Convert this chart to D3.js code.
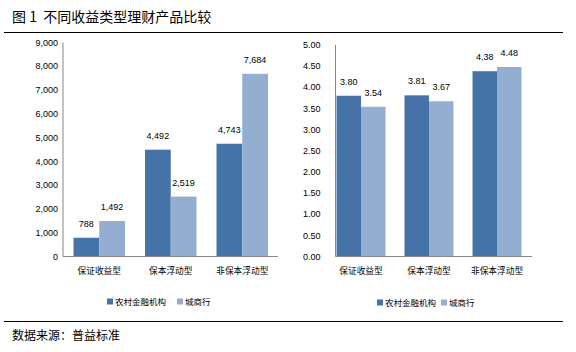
<!DOCTYPE html>
<html>
<head>
<meta charset="utf-8">
<script src="https://cdn.jsdelivr.net/npm/d3@7"></script>
<style>
  body { margin: 0; background: #fff; }
  text { font-family: "Liberation Sans", "Noto Sans CJK SC", sans-serif; fill: #000; }
  .cjk { font-family: "Noto Sans CJK SC", sans-serif; }
</style>
</head>
<body>
<svg id="chart" width="576" height="352"></svg>
<script>
const categories = ['保证收益型', '保本浮动型', '非保本浮动型']
const seriesNames = ['农村金融机构', '城商行']
const scaleValues = [[788, 4492, 4743], [1492, 2519, 7684]]
const yieldValues = [[3.80, 3.81, 4.38], [3.54, 3.67, 4.48]]
const scaleTicks = [0, 1000, 2000, 3000, 4000, 5000, 6000, 7000, 8000, 9000]
const yieldTicks = [0, 0.5, 1, 1.5, 2, 2.5, 3, 3.5, 4, 4.5, 5]

const colors = ['#4572A7', '#94AED2']
const svg = d3.select('#chart')

svg.append('text')
    .attr('class', 'cjk')
    .attr('x', 12)
    .attr('y', 22)
    .attr('font-size', 14)
    .attr('xml:space', 'preserve')
    .text('图 1  不同收益类型理财产品比较')

svg.append('line').attr('x1', 4).attr('x2', 563).attr('y1', 32.5).attr('y2', 32.5)
    .attr('stroke', '#000').attr('stroke-width', 1)
svg.append('line').attr('x1', 4).attr('x2', 563).attr('y1', 321.5).attr('y2', 321.5)
    .attr('stroke', '#000').attr('stroke-width', 1)

svg.append('text')
    .attr('class', 'cjk')
    .attr('x', 12)
    .attr('y', 340)
    .attr('font-size', 12)
    .text('数据来源：普益标准')

function drawPanel(opt) {
    const g = svg.append('g')
    const x0 = d3.scaleBand()
        .domain(categories)
        .range(opt.xRange)
        .paddingInner(0.28)
        .paddingOuter(0.14)
    const x1 = d3.scaleBand()
        .domain([0, 1])
        .range([0, x0.bandwidth()])
    const y = d3.scaleLinear()
        .domain([0, opt.max])
        .range([opt.y0, opt.yTop])

    // y axis labels
    g.selectAll('.ytick')
        .data(opt.ticks)
        .enter()
        .append('text')
        .attr('x', opt.axisX - opt.labelGap)
        .attr('y', d => y(d))
        .attr('dy', '0.35em')
        .attr('text-anchor', 'end')
        .attr('font-size', 9)
        .text(opt.fmt)

    // bars
    opt.values.forEach((vals, s) => {
        g.selectAll('.bar' + s)
            .data(vals)
            .enter()
            .append('rect')
            .attr('x', (d, i) => x0(categories[i]) + x1(s))
            .attr('width', x1.bandwidth())
            .attr('y', d => y(d))
            .attr('height', d => opt.y0 - y(d))
            .attr('fill', colors[s])

        g.selectAll('.lab' + s)
            .data(vals)
            .enter()
            .append('text')
            .attr('x', (d, i) => x0(categories[i]) + x1(s) + x1.bandwidth() / 2)
            .attr('y', d => y(d) - 11)
            .attr('text-anchor', 'middle')
            .attr('font-size', 9)
            .text(opt.labelFmt)
    })

    // axes lines
    g.append('line')
        .attr('x1', opt.axisX).attr('x2', opt.axisX)
        .attr('y1', opt.yTop).attr('y2', opt.y0)
        .attr('stroke', '#868686')
    g.append('line')
        .attr('x1', opt.axisX).attr('x2', opt.axisEnd)
        .attr('y1', opt.y0).attr('y2', opt.y0)
        .attr('stroke', '#868686')

    g.selectAll('.cat')
        .data(categories)
        .enter()
        .append('text')
        .attr('class', 'cjk')
        .attr('x', d => x0(d) + x0.bandwidth() / 2)
        .attr('y', 274)
        .attr('text-anchor', 'middle')
        .attr('font-size', 8.7)
        .text(d => d)

    // legend
    seriesNames.forEach((name, s) => {
        const lx = opt.legendX[s]
        g.append('rect')
            .attr('x', lx).attr('y', opt.legendY - 3.5)
            .attr('width', 6).attr('height', 6)
            .attr('fill', colors[s])
        g.append('text')
            .attr('class', 'cjk')
            .attr('x', lx + 8)
            .attr('y', opt.legendY)
            .attr('dy', '0.35em')
            .attr('font-size', 8.5)
            .text(name)
    })
}

drawPanel({
    values: scaleValues,
    ticks: scaleTicks,
    max: 9000,
    xRange: [63.5, 278],
    axisX: 63,
    axisEnd: 278,
    y0: 256.5,
    yTop: 42.5,
    labelGap: 5,
    fmt: d3.format(','),
    labelFmt: d3.format(','),
    legendX: [107, 177],
    legendY: 302
})

drawPanel({
    values: yieldValues,
    ticks: yieldTicks,
    max: 5,
    xRange: [327, 531],
    axisX: 335.5,
    axisEnd: 532,
    y0: 256.5,
    yTop: 45,
    labelGap: 15,
    fmt: d3.format('.2f'),
    labelFmt: d3.format('.2f'),
    legendX: [377, 441],
    legendY: 303
})
</script>
</body>
</html>
